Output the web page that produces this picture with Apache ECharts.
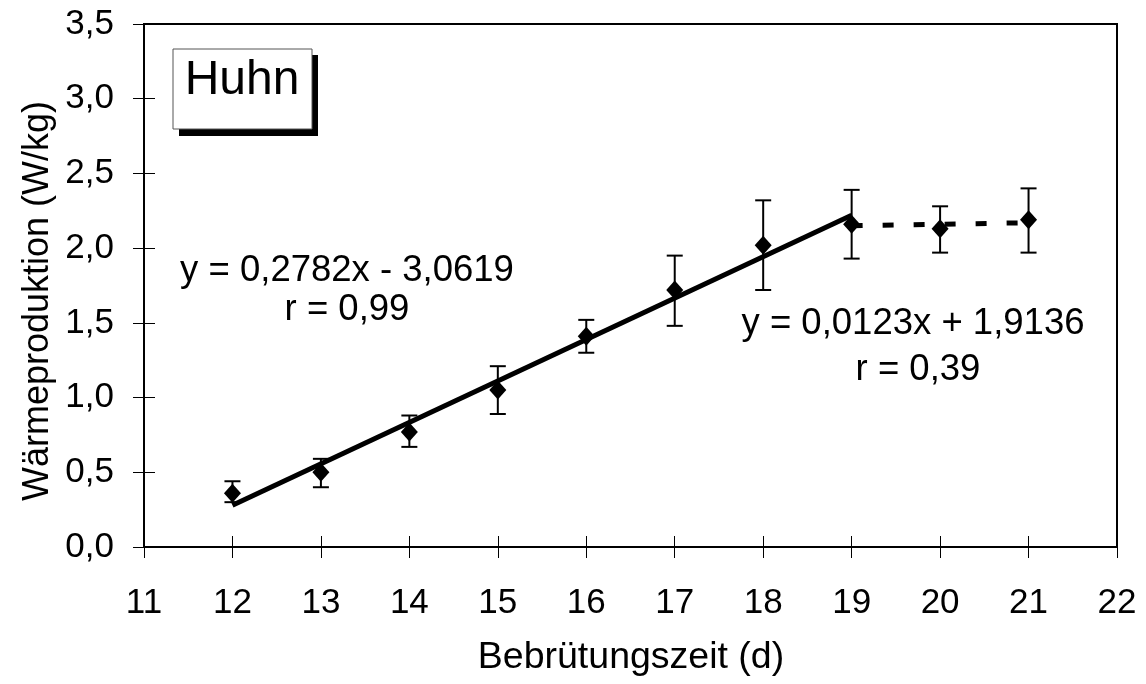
<!DOCTYPE html>
<html><head><meta charset="utf-8">
<script src="https://cdn.jsdelivr.net/npm/echarts@6/dist/echarts.min.js"></script>
<style>html,body{margin:0;padding:0;background:#fff}#c{width:1146px;height:684px}</style>
</head><body><div id="c"></div>
<script>
const days = [12, 13, 14, 15, 16, 17, 18, 19, 20, 21];
const means = [0.36, 0.50, 0.77, 1.05, 1.41, 1.72, 2.02, 2.16, 2.13, 2.19];
const upper = [0.44, 0.59, 0.88, 1.21, 1.52, 1.95, 2.32, 2.39, 2.28, 2.40];
const lower = [0.30, 0.40, 0.67, 0.89, 1.30, 1.48, 1.72, 1.93, 1.97, 1.97];
const trend1 = [[12, 0.28], [19, 2.22]];
const trend2 = [[19, 2.15], [21, 2.17]];
const xTicks = [11, 12, 13, 14, 15, 16, 17, 18, 19, 20, 21, 22];
const yTicks = [0, 0.5, 1, 1.5, 2, 2.5, 3, 3.5];
const eq1 = ['y = 0,2782x - 3,0619', 'r = 0,99'];
const eq2 = ['y = 0,0123x + 1,9136', 'r = 0,39'];

const FONT = 'Liberation Sans, Arial, sans-serif';
const chart = echarts.init(document.getElementById('c'));
const errData = days.map((d, i) => [d, lower[i], upper[i]]);
const pts = days.map((d, i) => [d, means[i]]);

chart.setOption({
  animation: false,
  grid: { left: 144, right: 29, top: 24, bottom: 137, show: true, borderColor: '#000', borderWidth: 2, containLabel: false },
  xAxis: [
    { type: 'value', min: xTicks[0], max: xTicks[xTicks.length - 1], interval: 1,
      axisLine: { show: true, lineStyle: { color: '#000', width: 2 } },
      axisTick: { show: true, length: 11, lineStyle: { color: '#000', width: 1 } },
      splitLine: { show: false },
      axisLabel: { color: '#000', fontSize: 35, fontFamily: FONT, margin: 39,
        formatter: v => xTicks.includes(v) ? String(v) : '' } },
    { type: 'value', min: xTicks[0], max: xTicks[xTicks.length - 1], interval: 1, position: 'bottom',
      axisLine: { show: false }, axisTick: { show: true, inside: true, length: 11, lineStyle: { color: '#000', width: 1 } },
      axisLabel: { show: false }, splitLine: { show: false } }
  ],
  yAxis: [
    { type: 'value', min: yTicks[0], max: yTicks[yTicks.length - 1], interval: 0.5,
      axisLine: { show: true, lineStyle: { color: '#000', width: 2 } },
      axisTick: { show: true, length: 11, lineStyle: { color: '#000', width: 1 } },
      splitLine: { show: false },
      axisLabel: { color: '#000', fontSize: 35, fontFamily: FONT, margin: 30,
        formatter: v => v.toFixed(1).replace('.', ',') } },
    { type: 'value', min: yTicks[0], max: yTicks[yTicks.length - 1], interval: 0.5, position: 'left',
      axisLine: { show: false }, axisTick: { show: true, inside: true, length: 11, lineStyle: { color: '#000', width: 1 } },
      axisLabel: { show: false }, splitLine: { show: false } }
  ],
  graphic: [
    { type: 'rect', shape: { x: 179, y: 55, width: 139, height: 81 }, style: { fill: '#000' }, z: 10 },
    { type: 'rect', shape: { x: 173, y: 49, width: 139, height: 80 }, style: { fill: '#fff', stroke: '#555', lineWidth: 1 }, z: 11 },
    { type: 'text', x: 242, y: 81, z: 12, style: { text: 'Huhn', font: '48px ' + FONT, fill: '#000', textAlign: 'center', textVerticalAlign: 'middle' } },
    { type: 'text', x: 347, y: 271, z: 12, style: { text: eq1[0], font: '36.5px ' + FONT, fill: '#000', textAlign: 'center', textVerticalAlign: 'middle' } },
    { type: 'text', x: 347, y: 310, z: 12, style: { text: eq1[1], font: '36.5px ' + FONT, fill: '#000', textAlign: 'center', textVerticalAlign: 'middle' } },
    { type: 'text', x: 913, y: 324, z: 12, style: { text: eq2[0], font: '36.5px ' + FONT, fill: '#000', textAlign: 'center', textVerticalAlign: 'middle' } },
    { type: 'text', x: 918, y: 370, z: 12, style: { text: eq2[1], font: '36.5px ' + FONT, fill: '#000', textAlign: 'center', textVerticalAlign: 'middle' } },
    { type: 'text', x: 631, y: 658, z: 12, style: { text: 'Bebrütungszeit (d)', font: '37.5px ' + FONT, fill: '#000', textAlign: 'center', textVerticalAlign: 'middle' } },
    { type: 'text', x: 38, y: 301, rotation: Math.PI / 2, z: 12, style: { text: 'Wärmeproduktion (W/kg)', font: '36px ' + FONT, fill: '#000', textAlign: 'center', textVerticalAlign: 'middle' } }
  ],
  series: [
    { type: 'line', data: trend1, symbol: 'none', lineStyle: { color: '#000', width: 5 }, z: 3 },
    { type: 'line', data: trend2, symbol: 'none', lineStyle: { color: '#000', width: 5, type: [11, 20] }, z: 3 },
    { type: 'custom', data: errData, z: 4,
      renderItem: (params, api) => {
        const x = api.value(0);
        const lo = api.coord([x, api.value(1)]);
        const hi = api.coord([x, api.value(2)]);
        const w = 8;
        const st = { stroke: '#000', lineWidth: 2 };
        return { type: 'group', children: [
          { type: 'line', shape: { x1: hi[0], y1: hi[1], x2: lo[0], y2: lo[1] }, style: st },
          { type: 'line', shape: { x1: hi[0] - w, y1: hi[1], x2: hi[0] + w, y2: hi[1] }, style: st },
          { type: 'line', shape: { x1: lo[0] - w, y1: lo[1], x2: lo[0] + w, y2: lo[1] }, style: st }
        ] };
      } },
    { type: 'scatter', data: pts, symbol: 'diamond', symbolSize: [17, 19], itemStyle: { color: '#000', opacity: 1 }, z: 5 }
  ]
});
</script></body></html>
